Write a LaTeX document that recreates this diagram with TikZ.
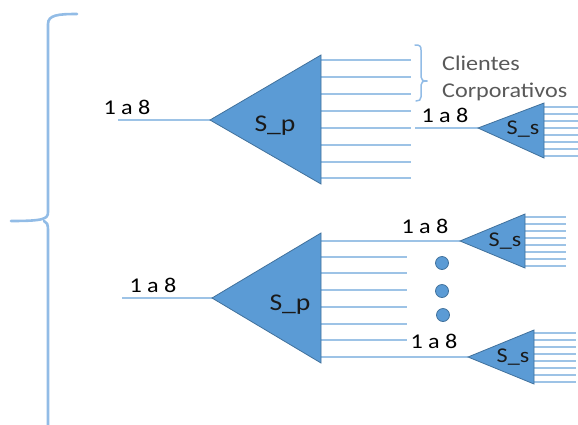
\documentclass[tikz,border=0pt]{standalone}
\usepackage{fontspec}
\setmainfont{Carlito}[FakeStretch=1.15]
\definecolor{wirec}{HTML}{9DC3E6}
\definecolor{bracec}{HTML}{92BCE6}
\definecolor{trif}{HTML}{5B9BD5}
\definecolor{trid}{HTML}{41719C}
\definecolor{greytxt}{HTML}{595959}
\definecolor{darktxt}{HTML}{1A1A1A}
\begin{document}
\begin{tikzpicture}[x=1pt,y=-1pt,
  wire/.style={draw=wirec,line width=2pt},
  bracestroke/.style={draw=bracec,line width=2.6pt,line cap=round},
  tri/.style={fill=trif,draw=trid,line width=0.8pt,line join=miter},
  dotnode/.style={circle,fill=trif,draw=trid,line width=0.8pt,minimum size=13pt,inner sep=0pt},
  num/.style={font=\fontsize{21}{24}\selectfont,text=black,inner sep=0pt},
  splbl/.style={font=\fontsize{24}{28}\selectfont,text=darktxt,inner sep=0pt,anchor=base},
  sslbl/.style={font=\fontsize{21}{24}\selectfont,text=darktxt,inner sep=0pt,anchor=base},
  cli/.style={font=\fontsize{21}{24}\selectfont,text=greytxt,inner sep=0pt,anchor=base west}]
\useasboundingbox (0,0) rectangle (578,424);

% big brace
\draw[bracestroke] (77,14) .. controls (58,14) and (48,15) .. (48,24) -- (48,212)
  .. controls (48,219) and (44,221) .. (11,221);
\draw[bracestroke] (44,221) .. controls (47,222) and (48,224) .. (48,231) -- (48,426);

% small brace
\draw[bracestroke,line width=1.5pt] (415,45) .. controls (420,45) and (421,46) .. (421,50) -- (421,77)
  .. controls (421,80) and (423,81) .. (427,81);
\draw[bracestroke,line width=1.5pt] (427,81) .. controls (423,81) and (421,82) .. (421,85) -- (421,97)
  .. controls (421,100) and (419,101) .. (416,101);

% ---------- top S_p ----------
\coordinate (inA) at (118,120);
\coordinate (pA) at (210,120);
\draw[wire] (inA) -- (pA);
\foreach \y in {60,77,94,111,128,145,162,178} \draw[wire] (321,\y) -- (411,\y);
\draw[tri] (pA) -- (321,55) -- (321,184) -- cycle;
\node[splbl] (spA) at (275,131) {S\_p};
\node[num] (lA) at (127,107) {1 a 8};

% top S_s
\coordinate (ssAin) at (415,128);
\coordinate (ssA) at (478,128);
\draw[wire] (ssAin) -- (ssA);
\foreach \y in {107,114,121,128,135,142,149,156} \draw[wire] (544,\y) -- (580,\y);
\draw[tri] (ssA) -- (544,103) -- (544,158) -- cycle;
\node[sslbl] (ssAl) at (523,134) {S\_s};
\node[num] (lB) at (445,115) {1 a 8};

\node[cli] (c1) at (442,70) {Clientes};
\node[cli] (c2) at (442,97) {Corporativos};

% ---------- bottom S_p ----------
\coordinate (inB) at (122,298);
\coordinate (pB) at (212,298);
\draw[wire] (inB) -- (pB);
\foreach \y in {257,273,290,307,324,340} \draw[wire] (321,\y) -- (407,\y);
\coordinate (ssB) at (460,241);
\coordinate (ssC) at (468,357);
\draw[wire] (321,241) -- (ssB);
\draw[wire] (321,357) -- (ssC);
\draw[tri] (pB) -- (321,233) -- (321,363) -- cycle;
\node[splbl] (spB) at (290,310) {S\_p};
\node[num] (lC) at (153,285) {1 a 8};

% middle S_s
\foreach \y in {217,224,231,238,245,252,259,266} \draw[wire] (525,\y) -- (566,\y);
\draw[tri] (ssB) -- (525,214) -- (525,268) -- cycle;
\node[sslbl] (ssBl) at (505,246) {S\_s};
\node[num] (lD) at (425,226) {1 a 8};

% bottom S_s
\foreach \y in {333,340,347,354,361,368,375,382} \draw[wire] (534,\y) -- (576,\y);
\draw[tri] (ssC) -- (534,330) -- (534,384) -- cycle;
\node[sslbl] (ssCl) at (513,362) {S\_s};
\node[num] (lE) at (434,341) {1 a 8};

% dots
\node[dotnode] (d1) at (442,263) {};
\node[dotnode] (d2) at (442,291) {};
\node[dotnode] (d3) at (443,315) {};
\end{tikzpicture}
\end{document}
